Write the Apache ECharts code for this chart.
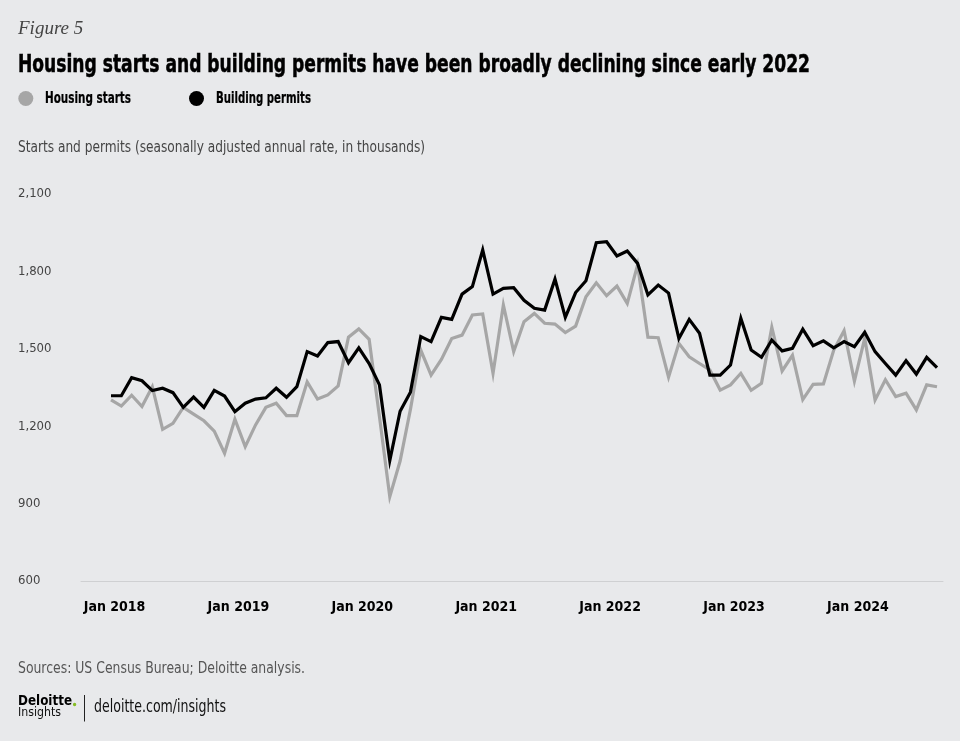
<!DOCTYPE html>
<html>
<head>
<meta charset="utf-8">
<script src="https://cdn.jsdelivr.net/npm/echarts@6/dist/echarts.min.js"></script>
<style>
html,body{margin:0;padding:0;background:#e8e9eb;}
#chart{width:960px;height:741px;}
</style>
</head>
<body>
<div id="chart"></div>
<script>
// Monthly, Jan 2018 – Sep 2024 (thousands, SAAR)
const housingStarts = [
  1302,1278,1320,1276,1353,1188,1211,1273,1247,1221,1181,1095,
  1227,1121,1205,1273,1289,1241,1241,1372,1305,1321,1356,1545,
  1577,1537,1237,927,1065,1265,1495,1398,1459,1540,1553,1631,
  1635,1405,1670,1489,1605,1637,1599,1596,1563,1588,1702,1756,
  1706,1743,1676,1825,1545,1543,1390,1521,1469,1443,1418,1340,
  1360,1405,1339,1366,1583,1414,1475,1303,1362,1364,1495,1570,
  1375,1541,1302,1380,1315,1328,1263,1360,1353
];
const buildingPermits = [
  1318,1318,1388,1376,1338,1347,1330,1273,1313,1273,1339,1317,
  1256,1289,1305,1310,1347,1312,1353,1489,1472,1524,1528,1446,
  1504,1443,1360,1067,1258,1332,1547,1528,1622,1614,1712,1741,
  1883,1712,1734,1737,1688,1657,1650,1770,1622,1718,1764,1911,
  1915,1860,1879,1831,1709,1747,1716,1540,1614,1560,1398,1398,
  1437,1618,1495,1467,1534,1492,1502,1576,1512,1531,1504,1528,
  1508,1564,1489,1443,1398,1454,1402,1467,1427
];
const seriesNames = ['Housing starts','Building permits'];
const tickIndices = [0,12,24,36,48,60,72];
const tickLabels = ["Jan 2018","Jan 2019","Jan 2020","Jan 2021","Jan 2022","Jan 2023","Jan 2024"];
const yTicks = [600,900,1200,1500,1800,2100];

const COND = '"DejaVu Sans Condensed","Liberation Sans Narrow",sans-serif';
const SERIF = '"Liberation Serif","DejaVu Serif",serif';
const GRAY = '#a6a6a6';

// measure text to condense it horizontally to the reference width
const mctx = document.createElement('canvas').getContext('2d');
function fitScale(text, font, target){ mctx.font = font; return target / mctx.measureText(text).width; }
function condText(text, font, x, y, target, fill, strokeW){
  const style = {text:text, font:font, fill:fill, align:'left', verticalAlign:'middle'};
  if (strokeW) { style.stroke = fill; style.lineWidth = strokeW; }
  return {type:'text', x:x, y:y, scaleX:fitScale(text,font,target), scaleY:1, style:style, silent:true};
}

const chart = echarts.init(document.getElementById('chart'), null, {renderer:'canvas'});
const toPairs = arr => arr.map((v,i)=>[i,v]);

const titleFont = 'bold 24px ' + COND;
const legendFont = 'bold 15px ' + COND;
const subFont = '16px ' + COND;
const srcFont = '16px ' + COND;
const urlFont = '17px ' + COND;

chart.setOption({
  backgroundColor:'#e8e9eb',
  animation:false,
  graphic:[
    {type:'text', x:18, y:29, style:{text:'Figure 5', font:'italic 19px '+SERIF, fill:'#444', verticalAlign:'middle'}, silent:true},
    condText('Housing starts and building permits have been broadly declining since early 2022', titleFont, 18, 66, 792, '#000', 0.5),
    {type:'circle', shape:{cx:25.8, cy:98.5, r:7.5}, style:{fill:GRAY}, silent:true},
    condText(seriesNames[0], legendFont, 45, 99.5, 86, '#000', 0.2),
    {type:'circle', shape:{cx:196.5, cy:98.5, r:7.5}, style:{fill:'#000'}, silent:true},
    condText(seriesNames[1], legendFont, 216, 99.5, 95, '#000', 0.2),
    condText('Starts and permits (seasonally adjusted annual rate, in thousands)', subFont, 18, 148, 407, '#444'),
    condText('Sources: US Census Bureau; Deloitte analysis.', srcFont, 18, 668.5, 287, '#555'),
    condText('Deloitte', 'bold 14px '+COND, 18, 701, 54, '#000'),
    {type:'circle', shape:{cx:74.6, cy:704.5, r:1.7}, style:{fill:'#86bc25'}, silent:true},
    condText('Insights', '13px '+COND, 18, 713, 43, '#111'),
    {type:'line', shape:{x1:84.5, y1:695, x2:84.5, y2:721.5}, style:{stroke:'#222', lineWidth:1}, silent:true},
    condText('deloitte.com/insights', urlFont, 94, 708, 132, '#111')
  ],
  grid:{left:81, right:17, top:194, bottom:160, containLabel:false},
  xAxis:{
    type:'value', min:-2.906, max:80.58,
    axisLine:{show:true, onZero:false, lineStyle:{color:'#cfd0d2', width:1}},
    axisTick:{show:false},
    splitLine:{show:false},
    axisLabel:{
      customValues:tickIndices,
      margin:19,
      padding:[0,0,0,7],
      fontFamily:COND, fontWeight:'bold', fontSize:14, color:'#000',
      formatter:v=>{const k=tickIndices.indexOf(Math.round(v)); return k>=0?tickLabels[k]:'';}
    }
  },
  yAxis:{
    type:'value', min:yTicks[0], max:yTicks[yTicks.length-1], interval:300,
    axisLine:{show:false}, axisTick:{show:false}, splitLine:{show:false},
    axisLabel:{align:'left', margin:63, fontFamily:COND, fontSize:13, color:'#444',
      formatter:v=>v.toLocaleString('en-US')}
  },
  series:[
    {name:seriesNames[0], type:'line', data:toPairs(housingStarts), symbol:'none', color:GRAY,
      lineStyle:{width:3.2, color:GRAY, join:'miter'}},
    {name:seriesNames[1], type:'line', data:toPairs(buildingPermits), symbol:'none', color:'#000',
      lineStyle:{width:3.2, color:'#000', join:'miter'}}
  ]
});
</script>
</body>
</html>
